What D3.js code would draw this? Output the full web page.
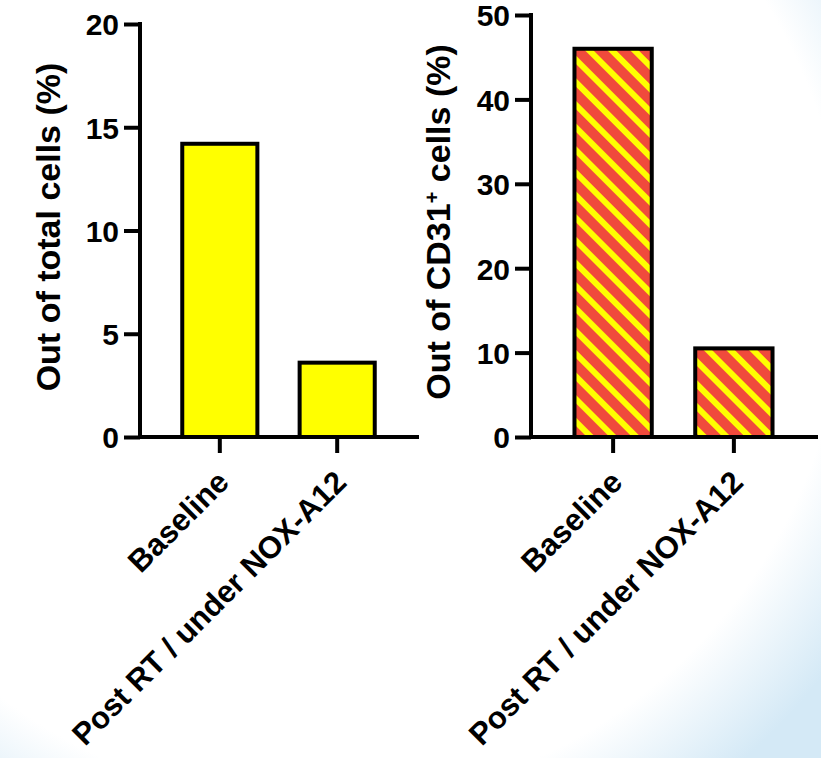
<!DOCTYPE html>
<html>
<head>
<meta charset="utf-8">
<script src="https://cdn.jsdelivr.net/npm/d3@7/dist/d3.min.js"></script>
<style>
  html, body { margin: 0; padding: 0; background: #fff; }
  svg { display: block; }
  text { font-family: "Liberation Sans", Arial, sans-serif; font-weight: bold; fill: #000; }
</style>
</head>
<body>
<svg id="chart" width="821" height="758"></svg>
<script>
// ---- data ----
const categories = ["Baseline", "Post RT / under NOX-A12"];
const totalCells = [14.2, 3.6];        // Out of total cells (%)
const cd31Cells = [46.0, 10.5];        // Out of CD31+ cells (%)
const leftTicks = [0, 5, 10, 15, 20];
const rightTicks = [0, 10, 20, 30, 40, 50];

const svg = d3.select("#chart");
const defs = svg.append("defs");

// background soft blue glow at the right edge
const rg = defs.append("radialGradient").attr("id", "bg")
  .attr("gradientUnits", "userSpaceOnUse")
  .attr("cx", 320).attr("cy", 280).attr("r", 640);
rg.append("stop").attr("offset", 0).attr("stop-color", "#ffffff");
rg.append("stop").attr("offset", 0.82).attr("stop-color", "#ffffff");
rg.append("stop").attr("offset", 1).attr("stop-color", "#d4e9f6");
svg.append("rect").attr("width", 821).attr("height", 758).attr("fill", "url(#bg)");

// striped pattern
const pat = defs.append("pattern").attr("id", "stripes")
  .attr("patternUnits", "userSpaceOnUse")
  .attr("width", 16).attr("height", 16)
  .attr("patternTransform", "rotate(45)");
pat.append("rect").attr("width", 16).attr("height", 16).attr("fill", "#F04A3C");
pat.append("rect").attr("width", 16).attr("height", 6).attr("fill", "#FFFF00");

function panel(opts) {
  const { values, ticks, yMax, xRange, yRange, fill, title, titleX, titleY, superscript } = opts;
  const x = d3.scaleBand().domain(categories).range(xRange).paddingInner(0.36).paddingOuter(0.36);
  const y = d3.scaleLinear().domain([0, yMax]).range(yRange);
  const g = svg.append("g");

  // bars
  g.selectAll("rect.bar").data(categories).enter().append("rect")
    .attr("class", "bar")
    .attr("x", d => x(d))
    .attr("width", x.bandwidth())
    .attr("y", (d, i) => y(values[i]))
    .attr("height", (d, i) => y(0) - y(values[i]))
    .attr("fill", fill)
    .attr("stroke", "#000").attr("stroke-width", 4);

  // y axis
  const ya = d3.axisLeft(y).tickValues(ticks).tickSize(16).tickPadding(5).tickSizeOuter(0);
  const yg = g.append("g").attr("transform", `translate(${xRange[0]},0)`).call(ya);
  yg.select(".domain").remove();
  yg.selectAll(".tick line").attr("stroke", "#000").attr("stroke-width", 4);
  yg.selectAll(".tick text").attr("font-size", 30).attr("font-family", "Liberation Sans, Arial, sans-serif")
    .attr("font-weight", "bold").attr("fill", "#000").attr("dy", "0.36em");

  // x axis
  const xa = d3.axisBottom(x).tickSize(16).tickSizeOuter(0).tickFormat("");
  const xg = g.append("g").attr("transform", `translate(0,${yRange[0]})`).call(xa);
  xg.select(".domain").remove();
  xg.selectAll(".tick line").attr("stroke", "#000").attr("stroke-width", 4);

  // axis lines
  g.append("path")
    .attr("d", `M${xRange[0]},${yRange[1]}V${yRange[0]}H${xRange[1]}`)
    .attr("fill", "none").attr("stroke", "#000").attr("stroke-width", 4)
    .attr("stroke-linecap", "square").attr("stroke-linejoin", "miter");

  // rotated category labels
  g.selectAll("text.cat").data(categories).enter().append("text")
    .attr("class", "cat")
    .attr("transform", d => `translate(${x(d) + x.bandwidth() / 2 + 11},${yRange[0] + 47}) rotate(-45)`)
    .attr("text-anchor", "end")
    .attr("font-size", 31)
    .text(d => d);

  // y title
  const t = g.append("text")
    .attr("transform", `translate(${titleX},${titleY}) rotate(-90)`)
    .attr("text-anchor", "middle")
    .attr("font-size", 34);
  if (superscript) {
    t.append("tspan").text(title[0]);
    t.append("tspan").attr("baseline-shift", "super").attr("font-size", 20).text(superscript);
    t.append("tspan").text(title[1]);
  } else {
    t.text(title);
  }
}

panel({
  values: totalCells, ticks: leftTicks, yMax: 20,
  xRange: [140, 417], yRange: [437, 24], fill: "#FFFF00",
  title: "Out of total cells (%)", titleX: 60, titleY: 227
});

panel({
  values: cd31Cells, ticks: rightTicks, yMax: 50,
  xRange: [531, 816], yRange: [437, 15], fill: "url(#stripes)",
  title: ["Out of CD31", " cells (%)"], superscript: "+", titleX: 450, titleY: 222
});
</script>
</body>
</html>
